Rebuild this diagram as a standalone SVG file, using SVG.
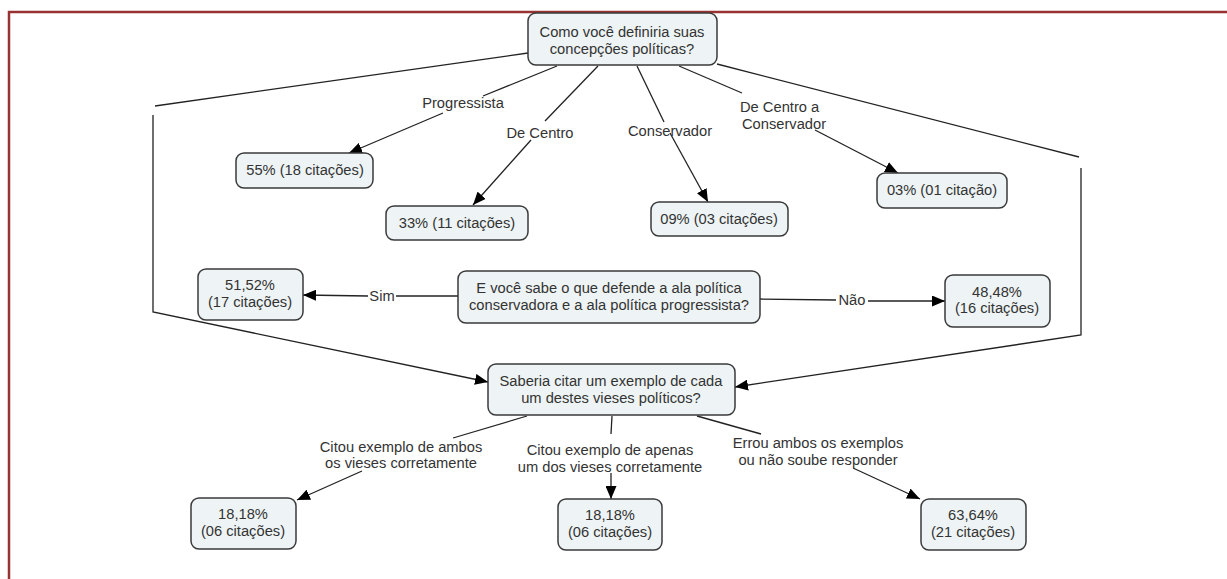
<svg xmlns="http://www.w3.org/2000/svg" width="1227" height="579" viewBox="0 0 1227 579">
<style>
.box{fill:#eef3f5;stroke:#3a3a3a;stroke-width:1.5}
.t{font-family:"Liberation Sans",Arial,sans-serif;font-size:14.7px;fill:#333;text-anchor:middle}
.s{text-anchor:start}
.ln{fill:none;stroke:#222;stroke-width:1.3}
.arr{fill:none;stroke:#222;stroke-width:1.3;marker-end:url(#ah)}
</style>
<defs>
<marker id="ah" viewBox="0 0 13 11" refX="13" refY="5.5" markerWidth="13" markerHeight="11" markerUnits="userSpaceOnUse" orient="auto">
<path d="M0,0 L13,5.5 L0,11 z" fill="#000"/>
</marker>
</defs>
<rect width="1227" height="579" fill="#fff"/>
<g id="frame" fill="none" stroke="#983230" stroke-width="2.5">
<path d="M9,579 V12 H1227"/>
</g>
<g id="connectors">
<path class="ln" d="M528,53 L155,106"/>
<path class="arr" d="M153,115 V312 L488,382"/>
<path class="ln" d="M717,64 L1079,157"/>
<path class="arr" d="M1081,168 V335 L735,387"/>
<path class="ln" d="M557,66 L483,96"/>
<path class="arr" d="M443,113 L349,153"/>
<path class="ln" d="M598,66 L545,121"/>
<path class="arr" d="M531,140 L473,205"/>
<path class="ln" d="M637,66 L664,122"/>
<path class="arr" d="M670,133 L708,202"/>
<path class="ln" d="M679,66 L742,93"/>
<path class="arr" d="M815,130 L898,173"/>
<path class="ln" d="M458,296 L396,296"/>
<path class="arr" d="M368,296 L303,295"/>
<path class="ln" d="M760,299 L836,300"/>
<path class="arr" d="M868,301 L945,301"/>
<path class="ln" d="M527,416 L453,438"/>
<path class="arr" d="M362,471 L297,500"/>
<path class="ln" d="M612,416 L611,434"/>
<path class="arr" d="M611,473 L611,499"/>
<path class="ln" d="M697,416 L761,434"/>
<path class="arr" d="M853,468 L920,499"/>
</g>
<g id="link-labels">
<text class="t" x="463" y="108">Progressista</text>
<text class="t" x="540" y="138">De Centro</text>
<text class="t" x="670" y="136">Conservador</text>
<text class="t s" x="740" y="112">De Centro a</text>
<text class="t s" x="742" y="129">Conservador</text>
<text class="t" x="382" y="301">Sim</text>
<text class="t" x="852" y="305">Não</text>
<text class="t" x="401" y="452">Citou exemplo de ambos</text>
<text class="t" x="401" y="468">os vieses corretamente</text>
<text class="t" x="610" y="455">Citou exemplo de apenas</text>
<text class="t" x="610" y="472">um dos vieses corretamente</text>
<text class="t" x="818" y="448">Errou ambos os exemplos</text>
<text class="t" x="818" y="465">ou não soube responder</text>
</g>
<g id="n-q1"><rect class="box" x="528" y="13" width="189" height="52" rx="8"/>
<text class="t" x="622" y="37">Como você definiria suas</text><text class="t" x="622" y="54">concepções políticas?</text></g>
<g id="n-55"><rect class="box" x="236" y="153" width="137" height="35" rx="8"/>
<text class="t" x="305" y="175">55% (18 citações)</text></g>
<g id="n-33"><rect class="box" x="386" y="206" width="142" height="34" rx="8"/>
<text class="t" x="457" y="228">33% (11 citações)</text></g>
<g id="n-09"><rect class="box" x="651" y="202" width="137" height="34" rx="8"/>
<text class="t" x="719" y="224">09% (03 citações)</text></g>
<g id="n-03"><rect class="box" x="877" y="173" width="130" height="35" rx="8"/>
<text class="t" x="942" y="195">03% (01 citação)</text></g>
<g id="n-q2"><rect class="box" x="458" y="271" width="302" height="52" rx="8"/>
<text class="t" x="609" y="293">E você sabe o que defende a ala política</text><text class="t" x="609" y="310">conservadora e a ala política progressista?</text></g>
<g id="n-sim"><rect class="box" x="198" y="269" width="105" height="51" rx="8"/>
<text class="t" x="250" y="290">51,52%</text><text class="t" x="250" y="307">(17 citações)</text></g>
<g id="n-nao"><rect class="box" x="945" y="275" width="105" height="52" rx="8"/>
<text class="t" x="997" y="297">48,48%</text><text class="t" x="997" y="313">(16 citações)</text></g>
<g id="n-q3"><rect class="box" x="488" y="364" width="247" height="51" rx="8"/>
<text class="t" x="611" y="386">Saberia citar um exemplo de cada</text><text class="t" x="611" y="403">um destes vieses políticos?</text></g>
<g id="n-b1"><rect class="box" x="191" y="498" width="105" height="51" rx="8"/>
<text class="t" x="243" y="519">18,18%</text><text class="t" x="243" y="536">(06 citações)</text></g>
<g id="n-b2"><rect class="box" x="558" y="499" width="104" height="51" rx="8"/>
<text class="t" x="610" y="520">18,18%</text><text class="t" x="610" y="537">(06 citações)</text></g>
<g id="n-b3"><rect class="box" x="921" y="499" width="105" height="51" rx="8"/>
<text class="t" x="973" y="520">63,64%</text><text class="t" x="973" y="537">(21 citações)</text></g>
</svg>
